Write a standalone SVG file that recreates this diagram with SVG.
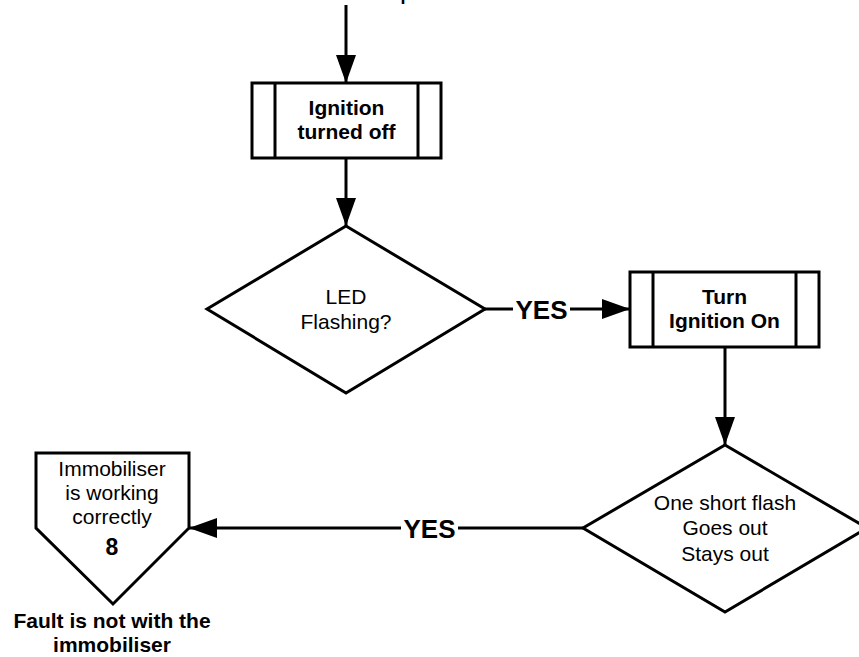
<svg xmlns="http://www.w3.org/2000/svg" width="859" height="657" viewBox="0 0 859 657">
  <style>
    .shape { fill: #ffffff; stroke: #000000; stroke-width: 3; stroke-linejoin: miter; }
    .bar { stroke: #000000; stroke-width: 3; }
    .wire { fill: none; stroke: #000000; stroke-width: 3; }
    .t { font-family: "Liberation Sans", Arial, sans-serif; font-size: 21px; fill: #000000; text-anchor: middle; }
    .b { font-weight: bold; }
    .yes { font-family: "Liberation Sans", Arial, sans-serif; font-size: 26px; font-weight: bold; fill: #000000; text-anchor: middle; }
  </style>
  <defs>
    <marker id="arrow" markerUnits="userSpaceOnUse" viewBox="0 0 28 20" refX="28" refY="10" markerWidth="28" markerHeight="20" orient="auto">
      <polygon points="0,0 28,10 0,20" fill="#000000"/>
    </marker>
  </defs>

  <rect width="859" height="657" fill="#ffffff"/>

  <!-- heading above the page edge, only its descender is visible -->
  <text x="400.5" y="0" class="t b" style="font-size:18px;text-anchor:start">p</text>

  <g id="connectors">
    <line class="wire" x1="346" y1="5" x2="346" y2="83" marker-end="url(#arrow)"/>
    <line class="wire" x1="346" y1="158" x2="346" y2="226" marker-end="url(#arrow)"/>
    <line class="wire" x1="485" y1="309" x2="513" y2="309"/>
    <text class="yes" x="541.5" y="318.5">YES</text>
    <line class="wire" x1="570" y1="309" x2="630" y2="309" marker-end="url(#arrow)"/>
    <line class="wire" x1="725" y1="347" x2="725" y2="445" marker-end="url(#arrow)"/>
    <line class="wire" x1="583" y1="528" x2="458" y2="528"/>
    <text class="yes" x="429.5" y="537.5">YES</text>
    <line class="wire" x1="401" y1="528" x2="189" y2="528" marker-end="url(#arrow)"/>
  </g>

  <g id="ignition-off">
    <rect class="shape" x="252" y="83" width="189" height="75"/>
    <line class="bar" x1="275" y1="83" x2="275" y2="158"/>
    <line class="bar" x1="418" y1="83" x2="418" y2="158"/>
    <text class="t b" x="346.5" y="115">Ignition</text>
    <text class="t b" x="346.5" y="139">turned off</text>
  </g>

  <g id="led-flashing">
    <polygon class="shape" points="346,226 485,309 346,393 207,309"/>
    <text class="t" x="346" y="304">LED</text>
    <text class="t" x="346" y="329">Flashing?</text>
  </g>

  <g id="ignition-on">
    <rect class="shape" x="630" y="272" width="189" height="75"/>
    <line class="bar" x1="653" y1="272" x2="653" y2="347"/>
    <line class="bar" x1="796" y1="272" x2="796" y2="347"/>
    <text class="t b" x="724.5" y="304">Turn</text>
    <text class="t b" x="724.5" y="328">Ignition On</text>
  </g>

  <g id="short-flash">
    <polygon class="shape" points="725,445 867,528 725,612 583,528"/>
    <text class="t" x="725" y="510">One short flash</text>
    <text class="t" x="725" y="535">Goes out</text>
    <text class="t" x="725" y="561">Stays out</text>
  </g>

  <g id="immobiliser-ok">
    <polygon class="shape" points="36,453 189,453 189,528 113,604 36,528"/>
    <text class="t" x="112" y="476">Immobiliser</text>
    <text class="t" x="112" y="500">is working</text>
    <text class="t" x="112" y="524">correctly</text>
    <text class="t b" x="112" y="555" style="font-size:23px">8</text>
    <text class="t b" x="112" y="628">Fault is not with the</text>
    <text class="t b" x="112" y="652">immobiliser</text>
  </g>
</svg>
